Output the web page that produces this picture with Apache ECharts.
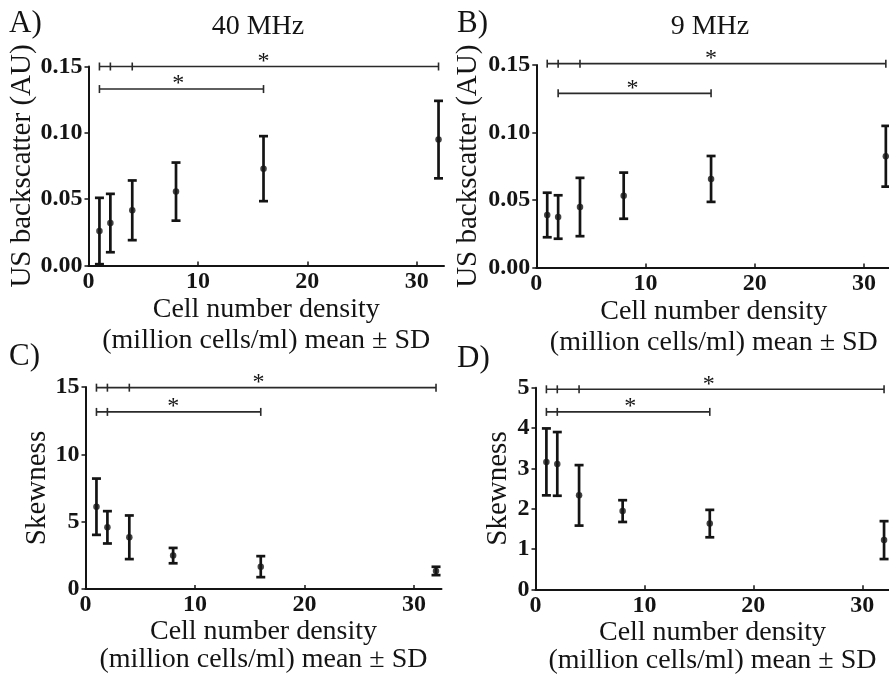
<!DOCTYPE html>
<html><head><meta charset="utf-8">
<script src="https://cdn.jsdelivr.net/npm/echarts@6/dist/echarts.min.js"></script>
<style>html,body{margin:0;padding:0;background:#fff}#c{width:889px;height:678px}</style>
</head><body><div id="c"></div>
<script>
// ---- data ----
const densities = [1, 2, 4, 8, 16, 32];
const xTicks = [0, 10, 20, 30];

const bs40Mean = [0.026, 0.032, 0.0416, 0.0557, 0.073, 0.0949];
const bs40Sd   = [0.025, 0.022, 0.0225, 0.0219, 0.0245, 0.0292];
const bs9Mean  = [0.0389, 0.0374, 0.0448, 0.0532, 0.0656, 0.0824];
const bs9Sd    = [0.0165, 0.0161, 0.0216, 0.0171, 0.017, 0.0225];
const sk40Mean = [6.11, 4.58, 3.84, 2.48, 1.66, 1.34];
const sk40Sd   = [2.09, 1.2, 1.62, 0.57, 0.78, 0.31];
const sk9Mean  = [3.16, 3.11, 2.33, 1.94, 1.63, 1.22];
const sk9Sd    = [0.83, 0.79, 0.75, 0.27, 0.34, 0.47];

// significance brackets: [xStart, xEnd, y, starX], ticks per bracket
const sigA = [[1, 32, 0.150, 16], [1, 16, 0.133, 8.2]];
const sigATicks = [[1, 2, 4, 32], [1, 16]];
const sigB = [[1, 32, 0.151, 16], [2, 16, 0.129, 8.8]];
const sigBTicks = [[1, 2, 4, 32], [2, 16]];
const sigC = [[1, 32, 14.95, 15.8], [1, 16, 13.15, 8]];
const sigCTicks = [[1, 2, 4, 32], [1, 2, 16]];
const sigD = [[1, 32, 4.96, 15.9], [1, 16, 4.4, 8.7]];
const sigDTicks = [[1, 2, 4, 32], [1, 2, 16]];

const panelLetters = ['A)', 'B)', 'C)', 'D)'];
const freqTitles = ['40 MHz', '9 MHz'];
const xName = 'Cell number density\n(million cells/ml) mean \u00b1 SD';
const yNames = ['US backscatter (AU)', 'US backscatter (AU)', 'Skewness', 'Skewness'];

// ---- styling ----
const INK = '#141414';
const SERIF = '"Liberation Serif", "Times New Roman", serif';

const grids = [
  { left: 88.5, top: 66.5, width: 355.5, height: 199, outerBoundsMode: 'none' },
  { left: 536.3, top: 65, width: 355, height: 202.5, outerBoundsMode: 'none' },
  { left: 85.5, top: 387, width: 356, height: 202, outerBoundsMode: 'none' },
  { left: 535.5, top: 387.7, width: 354, height: 201.6, outerBoundsMode: 'none' }
];
const yCfg = [
  { max: 0.15, interval: 0.05, fmt: v => v.toFixed(2), gap: 52 },
  { max: 0.15, interval: 0.05, fmt: v => v.toFixed(2), gap: 53 },
  { max: 15, interval: 5, fmt: v => String(v), gap: 34 },
  { max: 5, interval: 1, fmt: v => String(v), gap: 23 }
];
const xGap = [24, 24, 25, 25];
const xLineH = [31, 31, 28, 28];
const means = [bs40Mean, bs9Mean, sk40Mean, sk9Mean];
const sds = [bs40Sd, bs9Sd, sk40Sd, sk9Sd];
const sigs = [sigA, sigB, sigC, sigD];
const sigTicks = [sigATicks, sigBTicks, sigCTicks, sigDTicks];

const xAxes = [], yAxes = [], series = [];
for (let i = 0; i < 4; i++) {
  xAxes.push({
    gridIndex: i, type: 'value', min: 0, max: 32.5, interval: 10,
    axisLine: { show: true, onZero: false, lineStyle: { color: INK, width: 2 } },
    axisTick: { show: true, inside: true, length: 4, customValues: xTicks, lineStyle: { color: INK, width: 1.5 } },
    axisLabel: { customValues: xTicks, margin: 4, color: INK, fontFamily: SERIF, fontWeight: 'bold', fontSize: 24 },
    splitLine: { show: false },
    name: xName, nameLocation: 'middle', nameGap: xGap[i],
    nameTextStyle: { color: INK, fontFamily: SERIF, fontSize: 28, lineHeight: xLineH[i] }
  });
  const c = yCfg[i];
  yAxes.push({
    gridIndex: i, type: 'value', min: 0, max: c.max, interval: c.interval,
    axisLine: { show: true, onZero: false, lineStyle: { color: INK, width: 2 } },
    axisTick: { show: true, inside: false, length: 4, lineStyle: { color: INK, width: 1.5 } },
    axisLabel: { formatter: c.fmt, margin: 6, color: INK, fontFamily: SERIF, fontWeight: 'bold', fontSize: 24 },
    splitLine: { show: false },
    name: yNames[i], nameLocation: 'middle', nameGap: c.gap, nameRotate: 90,
    nameTextStyle: { color: INK, fontFamily: SERIF, fontSize: 29 }
  });
  const m = means[i], s = sds[i];
  series.push({
    type: 'custom', xAxisIndex: i, yAxisIndex: i, silent: true,
    data: densities.map((x, k) => [x, m[k] - s[k], m[k] + s[k]]),
    renderItem: function (params, api) {
      const lo = api.coord([api.value(0), api.value(1)]);
      const hi = api.coord([api.value(0), api.value(2)]);
      const w = 4.5;
      const st = { stroke: INK, lineWidth: 2.7 };
      return { type: 'group', children: [
        { type: 'line', shape: { x1: lo[0], y1: lo[1], x2: hi[0], y2: hi[1] }, style: st },
        { type: 'line', shape: { x1: lo[0] - w, y1: lo[1], x2: lo[0] + w, y2: lo[1] }, style: st },
        { type: 'line', shape: { x1: hi[0] - w, y1: hi[1], x2: hi[0] + w, y2: hi[1] }, style: st }
      ] };
    }
  });
  series.push({
    type: 'scatter', xAxisIndex: i, yAxisIndex: i, silent: true,
    symbol: 'circle', symbolSize: 6.5, itemStyle: { color: INK },
    data: densities.map((x, k) => [x, m[k]])
  });
  const tk = sigTicks[i];
  series.push({
    type: 'custom', xAxisIndex: i, yAxisIndex: i, silent: true, clip: false,
    data: sigs[i],
    renderItem: function (params, api) {
      const y = api.value(2);
      const a = api.coord([api.value(0), y]);
      const b = api.coord([api.value(1), y]);
      const st = { stroke: '#2a2a2a', lineWidth: 1.6 };
      const children = [{ type: 'line', shape: { x1: a[0], y1: a[1], x2: b[0], y2: b[1] }, style: st }];
      tk[params.dataIndex].forEach(t => {
        const p = api.coord([t, y]);
        children.push({ type: 'line', shape: { x1: p[0], y1: p[1] - 4, x2: p[0], y2: p[1] + 4 }, style: st });
      });
      const sp = api.coord([api.value(3), y]);
      children.push({ type: 'text', x: sp[0], y: sp[1] - 5,
        style: { text: '*', fill: INK, font: '24px ' + SERIF, align: 'center', verticalAlign: 'middle' } });
      return { type: 'group', children: children };
    }
  });
}

const textStyleL = { fill: INK, font: '31px ' + SERIF };
const graphic = [
  { type: 'text', left: 9, top: 8, style: Object.assign({ text: panelLetters[0] }, textStyleL) },
  { type: 'text', left: 457, top: 8, style: Object.assign({ text: panelLetters[1] }, textStyleL) },
  { type: 'text', left: 9, top: 341, style: Object.assign({ text: panelLetters[2] }, textStyleL) },
  { type: 'text', left: 457, top: 343, style: Object.assign({ text: panelLetters[3] }, textStyleL) },
  { type: 'text', x: 258, y: 27, style: { text: freqTitles[0], fill: INK, font: '28px ' + SERIF, align: 'center', verticalAlign: 'middle' } },
  { type: 'text', x: 710, y: 27, style: { text: freqTitles[1], fill: INK, font: '28px ' + SERIF, align: 'center', verticalAlign: 'middle' } }
];

const chart = echarts.init(document.getElementById('c'), null, { renderer: 'canvas' });
chart.setOption({ backgroundColor: '#ffffff', animation: false, grid: grids, xAxis: xAxes, yAxis: yAxes, series: series, graphic: graphic });
</script></body></html>
